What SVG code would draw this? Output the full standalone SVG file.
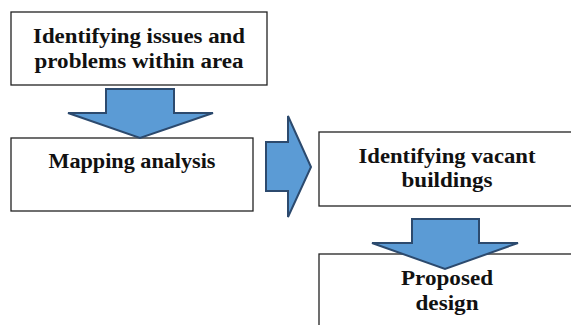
<svg xmlns="http://www.w3.org/2000/svg" width="571" height="325" viewBox="0 0 571 325">
<style>
.box{fill:#fff;stroke:#222;stroke-width:1.3}
.arr{fill:#5B9BD5;stroke:#2C4A6E;stroke-width:2;stroke-linejoin:miter}
text{font-family:"Liberation Serif",serif;font-weight:bold;font-size:20.5px;fill:#111;text-anchor:middle}
</style>
<rect width="571" height="325" fill="#fff"/>
<g id="n1">
<rect class="box" x="11" y="12" width="256" height="73"/>
<text x="139" y="43" textLength="212" lengthAdjust="spacingAndGlyphs">Identifying issues and</text>
<text x="139" y="68" textLength="209" lengthAdjust="spacingAndGlyphs">problems within area</text>
</g>
<g id="n2">
<rect class="box" x="11" y="138" width="242" height="73"/>
<text x="132" y="168" textLength="167" lengthAdjust="spacingAndGlyphs">Mapping analysis</text>
</g>
<g id="n3">
<rect class="box" x="319" y="132" width="260" height="74"/>
<text x="447" y="163" textLength="177" lengthAdjust="spacingAndGlyphs">Identifying vacant</text>
<text x="447" y="187" textLength="91" lengthAdjust="spacingAndGlyphs">buildings</text>
</g>
<g id="n4">
<rect class="box" x="319" y="254" width="260" height="80"/>
<text x="447" y="285" textLength="92" lengthAdjust="spacingAndGlyphs">Proposed</text>
<text x="447" y="310" textLength="63" lengthAdjust="spacingAndGlyphs">design</text>
</g>
<g id="connectors">
<polygon class="arr" points="106,89 174,89 174,113 213,113 140,138 68,113 106,113"/>
<polygon class="arr" points="266,142 288,142 288,116 311,167 288,217 288,191 266,191"/>
<polygon class="arr" points="412,219 479,219 479,243 518,243 445,269 372,243 412,243"/>
</g>
</svg>
